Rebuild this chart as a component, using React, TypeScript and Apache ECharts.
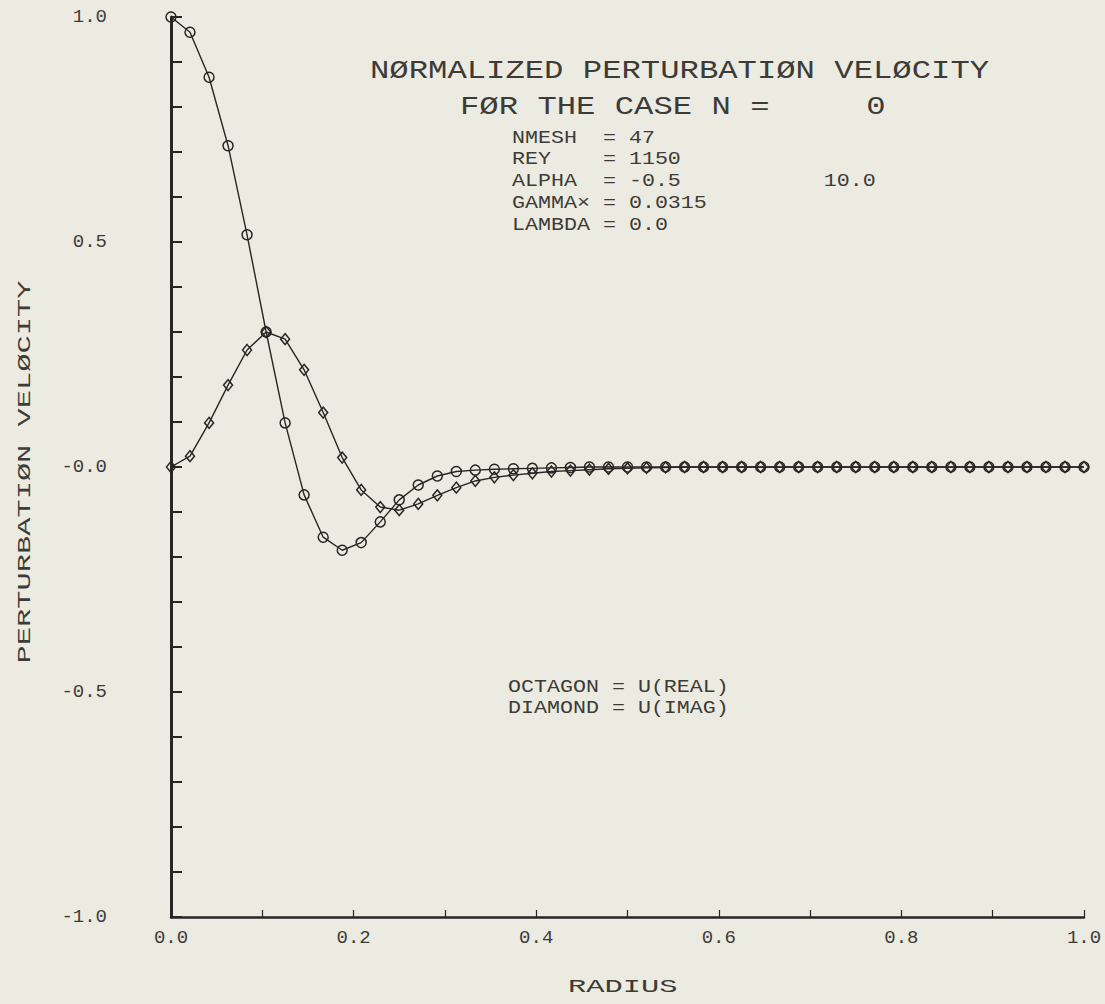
import React, { useEffect, useRef } from "react";
import * as echarts from "echarts";

// Radial mesh (49 nodes on 0..1)
const radius = [
  0.0, 0.0208, 0.0417, 0.0625, 0.0833, 0.1042, 0.125, 0.1458, 0.1667, 0.1875,
  0.2083, 0.2292, 0.25, 0.2708, 0.2917, 0.3125, 0.3333, 0.3542, 0.375, 0.3958,
  0.4167, 0.4375, 0.4583, 0.4792, 0.5, 0.5208, 0.5417, 0.5625, 0.5833, 0.6042,
  0.625, 0.6458, 0.6667, 0.6875, 0.7083, 0.7292, 0.75, 0.7708, 0.7917, 0.8125,
  0.8333, 0.8542, 0.875, 0.8958, 0.9167, 0.9375, 0.9583, 0.9792, 1.0,
];

// Real part of the axial perturbation velocity (octagon markers)
const uReal = [
  1.0, 0.966, 0.866, 0.714, 0.516, 0.3, 0.098, -0.062, -0.156, -0.185,
  -0.168, -0.122, -0.073, -0.04, -0.02, -0.01, -0.007, -0.005, -0.004, -0.003,
  -0.002, -0.001, 0, 0, 0, 0, 0, 0, 0, 0,
  0, 0, 0, 0, 0, 0, 0, 0, 0, 0,
  0, 0, 0, 0, 0, 0, 0, 0, 0,
];

// Imaginary part (diamond markers)
const uImag = [
  0.0, 0.024, 0.098, 0.182, 0.26, 0.3, 0.284, 0.216, 0.121, 0.021,
  -0.051, -0.089, -0.096, -0.082, -0.063, -0.046, -0.031, -0.023, -0.018, -0.014,
  -0.01, -0.008, -0.006, -0.004, -0.003, -0.002, -0.001, 0, 0, 0,
  0, 0, 0, 0, 0, 0, 0, 0, 0, 0,
  0, 0, 0, 0, 0, 0, 0, 0, 0,
];

const xTickLabels = ["0.0", "0.2", "0.4", "0.6", "0.8", "1.0"];
const yTickLabels = ["-1.0", "-0.5", "-0.0", "0.5", "1.0"];

const titleLines = ["NØRMALIZED PERTURBATIØN VELØCITY", "FØR THE CASE N =     0"];
const paramLines = [
  "NMESH  = 47",
  "REY    = 1150",
  "ALPHA  = -0.5           10.0",
  "GAMMA× = 0.0315",
  "LAMBDA = 0.0",
];
const legendLines = ["OCTAGON = U(REAL)", "DIAMOND = U(IMAG)"];
const xName = "RADIUS";
const yName = "PERTURBATIØN VELØCITY";

const BG = "#ecebe1";
const INK = "#2b2424";
const TEXT = "#3d3b38";
const FONT = "'Liberation Mono', 'DejaVu Sans Mono', monospace";

function textEl(text: string, x: number, y: number, size: number, scaleX: number, extra: any = {}) {
  return {
    type: "text",
    x,
    y,
    scaleX,
    silent: true,
    ...extra,
    style: {
      text,
      fontFamily: FONT,
      fontSize: size,
      fill: TEXT,
      align: extra.align || "left",
      textAlign: extra.align || "left",
      verticalAlign: "middle",
      textVerticalAlign: "middle",
    },
  };
}

export default function App() {
  const ref = useRef<HTMLDivElement>(null);

  useEffect(() => {
    if (!ref.current) return;
    const chart = echarts.init(ref.current, null, { renderer: "svg" });

    const graphics: any[] = [];
    graphics.push(textEl(titleLines[0], 370, 72, 25, 1.29));
    graphics.push(textEl(titleLines[1], 460, 108, 25, 1.29));
    const paramY = [138, 159, 181, 203, 225];
    paramLines.forEach((t, i) => graphics.push(textEl(t, 512, paramY[i], 19, 1.14)));
    const legendY = [687, 708];
    legendLines.forEach((t, i) => graphics.push(textEl(t, 508, legendY[i], 19, 1.14)));
    graphics.push(textEl(xName, 568, 987, 19, 1.6));
    graphics.push(
      textEl(yName, 25, 472, 19, 1.6, { rotation: Math.PI / 2, align: "center" })
    );

    const markerStyle = {
      color: "transparent",
      borderColor: INK,
      borderWidth: 1.5,
    };

    chart.setOption({
      animation: false,
      backgroundColor: BG,
      grid: { left: 171, top: 17, width: 913, height: 900 },
      xAxis: {
        type: "value",
        min: 0,
        max: 1,
        interval: 0.2,
        axisLine: { show: true, onZero: false, lineStyle: { color: INK, width: 2.5 } },
        axisTick: { show: true, inside: true, length: 7, lineStyle: { color: INK, width: 1.2 } },
        minorTick: { show: true, splitNumber: 2, length: 7, lineStyle: { color: INK, width: 1.2 } },
        splitLine: { show: false },
        axisLabel: {
          margin: 11,
          fontFamily: FONT,
          fontSize: 19,
          color: TEXT,
          formatter: (v: number) => xTickLabels[Math.round(v / 0.2)] ?? "",
        },
      },
      yAxis: {
        type: "value",
        min: -1,
        max: 1,
        interval: 0.5,
        axisLine: { show: true, onZero: false, lineStyle: { color: INK, width: 3 } },
        axisTick: { show: true, inside: true, length: 11, lineStyle: { color: INK, width: 2 } },
        minorTick: { show: true, splitNumber: 5, length: 11, lineStyle: { color: INK, width: 2 } },
        splitLine: { show: false },
        axisLabel: {
          margin: 64,
          align: "right",
          fontFamily: FONT,
          fontSize: 19,
          color: TEXT,
          formatter: (v: number) => yTickLabels[Math.round((v + 1) / 0.5)] ?? "",
        },
      },
      graphic: graphics,
      series: [
        {
          name: "U(REAL)",
          type: "line",
          data: radius.map((r, i) => [r, uReal[i]]),
          symbol: "circle",
          symbolSize: 10,
          showAllSymbol: true,
          lineStyle: { color: INK, width: 1.4 },
          itemStyle: markerStyle,
        },
        {
          name: "U(IMAG)",
          type: "line",
          data: radius.map((r, i) => [r, uImag[i]]),
          symbol: "diamond",
          symbolSize: [9, 11],
          showAllSymbol: true,
          lineStyle: { color: INK, width: 1.4 },
          itemStyle: markerStyle,
        },
      ],
    });

    return () => chart.dispose();
  }, []);

  return (
    <div
      ref={ref}
      style={{ position: "fixed", left: 0, top: 0, width: 1105, height: 1004, background: BG }}
    />
  );
}
